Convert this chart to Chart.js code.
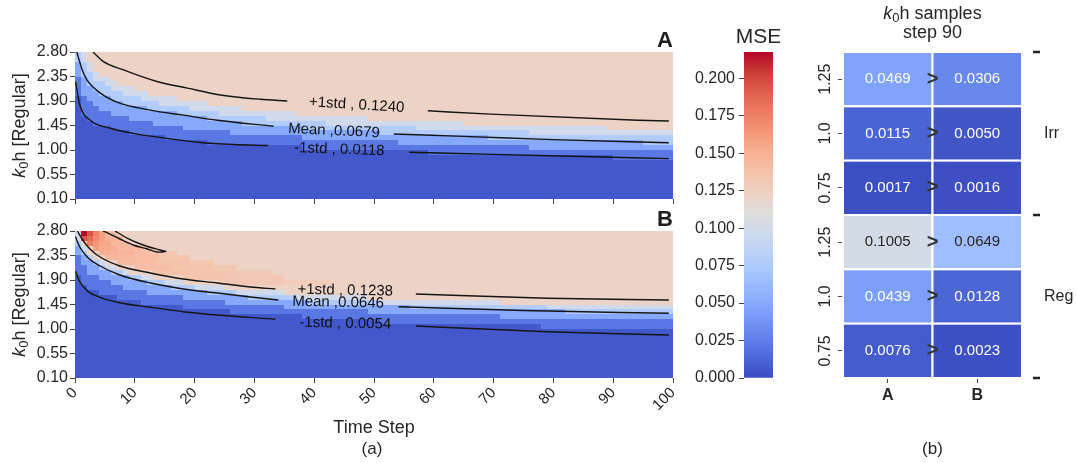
<!DOCTYPE html>
<html>
<head>
<meta charset="utf-8">
<script src="https://cdn.jsdelivr.net/npm/chart.js@4.4.1/dist/chart.umd.min.js"></script>
<style>
  html, body { margin: 0; padding: 0; background: #fff; }
  #wrap { position: relative; width: 1076px; height: 463px; overflow: hidden; }
  canvas { position: absolute; }
</style>
</head>
<body>
<div id="wrap">
  <canvas id="panelA" width="700" height="215" style="left:0px;top:0px"></canvas>
  <canvas id="panelB" width="700" height="263" style="left:0px;top:200px"></canvas>
  <canvas id="cbar" width="90" height="463" style="left:690px;top:0px"></canvas>
  <canvas id="samples" width="296" height="463" style="left:780px;top:0px"></canvas>
</div>
<script>
// MSE heatmaps (a) + step-90 sample table (b)

const FONT = "'Liberation Sans', Arial, sans-serif";
const INK = "#262626";

// ---- (a) axes ----
const X_TICKS = [0, 10, 20, 30, 40, 50, 60, 70, 80, 90, 100];
const Y_TICKS = [0.10, 0.55, 1.00, 1.45, 1.90, 2.35, 2.80];
const CB_TICKS = [0, 0.025, 0.05, 0.075, 0.1, 0.125, 0.15, 0.175, 0.2];
const VMAX = 0.2175;
const K_MIN = 0.10, K_STEP = 0.09, K_ROWS = 30, T_COLS = 100;

// colour bands: for each k0h row (bottom row first), the time step where the row
// first reaches each band (100 = never within 0..99)
const BAND_VALUES = [0.006, 0.022, 0.05, 0.078, 0.098, 0.122];

const A_X012 = [100, 100, 100, 100, 100, 100, 100, 100, 90, 59, 38, 22, 15, 9, 6, 3, 2, 1, 1, 1, 1, 0, 0, 0, 0, 0, 0, 0, 0, 0];
const A_X035 = [100, 100, 100, 100, 100, 100, 100, 100, 100, 100, 76, 54, 38, 26, 18, 13, 9, 6, 4, 3, 2, 1, 1, 1, 1, 0, 0, 0, 0, 0];
const A_X068 = [100, 100, 100, 100, 100, 100, 100, 100, 100, 100, 100, 95, 69, 51, 38, 28, 22, 17, 12, 8, 6, 4, 3, 2, 2, 1, 1, 1, 0, 0];
const A_X090 = [100, 100, 100, 100, 100, 100, 100, 100, 100, 100, 100, 100, 100, 76, 57, 42, 32, 24, 19, 14, 11, 8, 6, 5, 3, 3, 2, 2, 1, 1];
const A_X108 = [100, 100, 100, 100, 100, 100, 100, 100, 100, 100, 100, 100, 100, 100, 89, 65, 49, 37, 28, 22, 17, 12, 10, 7, 6, 4, 3, 3, 2, 2];

const B_X012 = [100, 100, 100, 100, 100, 100, 100, 100, 100, 100, 78, 51, 38, 26, 18, 11, 7, 4, 2, 1, 1, 0, 0, 0, 0, 0, 0, 0, 0, 0];
const B_X035 = [100, 100, 100, 100, 100, 100, 100, 100, 100, 100, 100, 100, 71, 49, 35, 25, 18, 12, 8, 6, 4, 2, 2, 1, 1, 0, 0, 0, 0, 0];
const B_X068 = [100, 100, 100, 100, 100, 100, 100, 100, 100, 100, 100, 100, 100, 82, 56, 39, 29, 22, 16, 12, 9, 6, 4, 3, 2, 1, 1, 0, 0, 0];
const B_X090 = [100, 100, 100, 100, 100, 100, 100, 100, 100, 100, 100, 100, 100, 100, 79, 51, 37, 27, 20, 15, 11, 8, 5, 4, 3, 2, 1, 1, 0, 0];
const B_X108 = [100, 100, 100, 100, 100, 100, 100, 100, 100, 100, 100, 100, 100, 100, 100, 71, 49, 35, 25, 18, 13, 9, 7, 5, 3, 2, 2, 1, 1, 1];

// B hot ridge above +1std: [row, fromStep, toStep, MSE]
const B_HOT = [
  [29, 1, 1, 0.217], [29, 2, 2, 0.195], [29, 3, 3, 0.175], [29, 4, 4, 0.16], [29, 5, 6, 0.145],
  [28, 1, 1, 0.195], [28, 2, 2, 0.185], [28, 3, 3, 0.17], [28, 4, 4, 0.16], [28, 5, 7, 0.148],
  [27, 2, 2, 0.175], [27, 3, 3, 0.165], [27, 4, 5, 0.155], [27, 6, 8, 0.145],
  [26, 3, 3, 0.16], [26, 4, 6, 0.152], [26, 7, 10, 0.145], [26, 11, 12, 0.136],
  [25, 4, 5, 0.15], [25, 6, 9, 0.148], [25, 10, 13, 0.14], [25, 14, 16, 0.134],
  [24, 5, 8, 0.145], [24, 9, 13, 0.142], [24, 14, 18, 0.136],
  [23, 7, 12, 0.142], [23, 13, 18, 0.138], [23, 19, 22, 0.133],
  [22, 10, 15, 0.14], [22, 16, 22, 0.136], [22, 23, 26, 0.132],
  [21, 13, 18, 0.138], [21, 19, 26, 0.135], [21, 27, 32, 0.131],
  [20, 18, 24, 0.136], [20, 25, 34, 0.132],
  [19, 24, 34, 0.132], [19, 35, 42, 0.129]
];

// contour lines [step, k0h], split where the inline label sits
const A_PLUS_1 = [[3.0, 2.80], [4.7, 2.629], [8.0, 2.475], [13.7, 2.258], [18.8, 2.136], [24.3, 2.011], [31.0, 1.931], [35.5, 1.90]];
const A_PLUS_2 = [[59.0, 1.72], [69.5, 1.659], [94.1, 1.547], [99.3, 1.534]];
const A_MEAN_1 = [[0.3, 2.80], [1.2, 2.475], [2.0, 2.29], [4.2, 2.049], [7.0, 1.881], [12.6, 1.733], [18.1, 1.64], [23.8, 1.547], [33.2, 1.436]];
const A_MEAN_2 = [[53.3, 1.293], [65, 1.25], [80, 1.19], [99.3, 1.133]];
const A_MINUS_1 = [[0.1, 2.25], [0.8, 1.83], [2.5, 1.55], [5.9, 1.40], [9.7, 1.306], [15.4, 1.213], [20.9, 1.139], [26.5, 1.102], [32.3, 1.083]];
const A_MINUS_2 = [[55.9, 0.959], [70, 0.92], [85, 0.88], [99.3, 0.842]];

const B_PLUS_1 = [[0.4, 2.80], [1.3, 2.635], [2.5, 2.469], [4.2, 2.322], [7.5, 2.157], [12.6, 2.029], [18.1, 1.918], [23.8, 1.845], [29.3, 1.771], [33.5, 1.735]];
const B_PLUS_2 = [[57, 1.643], [79, 1.564], [99.3, 1.533]];
const B_MEAN_1 = [[0.05, 2.70], [0.8, 2.506], [2.2, 2.304], [4.2, 2.157], [7.5, 1.992], [12.6, 1.845], [18.1, 1.735], [23.8, 1.661], [29.3, 1.588], [34.0, 1.533]];
const B_MEAN_2 = [[54.1, 1.41], [75, 1.34], [99.3, 1.288]];
const B_MINUS_1 = [[0.1, 2.06], [0.8, 1.869], [2.2, 1.686], [4.2, 1.582], [7.5, 1.483], [12.6, 1.399], [18.1, 1.318], [23.8, 1.257], [33.5, 1.178]];
const B_MINUS_2 = [[57, 1.055], [79, 0.95], [99.3, 0.89]];
const B_LOOP = [[6.7, 2.80], [8.7, 2.671], [11.4, 2.543], [14.2, 2.451], [15.2, 2.423], [13.7, 2.414], [12.1, 2.469], [9.7, 2.543], [7.5, 2.653], [5.5, 2.763], [4.7, 2.80]];

const A_LABELS = [
  { text: "+1std , 0.1240", t: 47.1, k: 1.827, rot: 3.5 },
  { text: "Mean ,0.0679", t: 43.3, k: 1.349, rot: 2.7 },
  { text: "-1std , 0.0118", t: 44.2, k: 1.009, rot: 2.0 }
];
const B_LABELS = [
  { text: "+1std , 0.1238", t: 45.2, k: 1.707, rot: 1.2 },
  { text: "Mean ,0.0646", t: 44.0, k: 1.487, rot: 1.2 },
  { text: "-1std , 0.0054", t: 45.2, k: 1.101, rot: 1.2 }
];

// ---- (b) step 90 samples ----
const SAMPLE_COLS = ["A", "B"];
const SAMPLE_ROWS = ["1.25", "1.0", "0.75", "1.25", "1.0", "0.75"];
const SAMPLE_GROUPS = ["Irr", "Reg"];
const SAMPLE_A = [0.0469, 0.0115, 0.0017, 0.1005, 0.0439, 0.0076];
const SAMPLE_B = [0.0306, 0.0050, 0.0016, 0.0649, 0.0128, 0.0023];

// coolwarm
const COOLWARM = [
  [59, 76, 192], [77, 104, 215], [98, 130, 234], [119, 154, 247], [141, 176, 254],
  [163, 194, 255], [184, 208, 249], [204, 217, 238], [221, 221, 221], [236, 211, 197],
  [245, 196, 173], [247, 177, 148], [244, 154, 123], [236, 127, 99], [222, 96, 77],
  [203, 62, 56], [180, 4, 38]
];

function coolwarm(v) {
  const f = Math.max(0, Math.min(1, v / VMAX)) * (COOLWARM.length - 1);
  const i = Math.min(Math.floor(f), COOLWARM.length - 2);
  const w = f - i;
  const a = COOLWARM[i], b = COOLWARM[i + 1];
  const c = a.map((x, j) => Math.round(x + (b[j] - x) * w));
  return `rgb(${c[0]},${c[1]},${c[2]})`;
}

Chart.defaults.font.family = FONT;
Chart.defaults.color = INK;

function bandField(crossings, hot) {
  const hotMap = {};
  (hot || []).forEach(([r, t0, t1, v]) => {
    for (let t = t0; t <= t1; t++) hotMap[r + "_" + t] = v;
  });
  return (t, r) => {
    const h = hotMap[r + "_" + t];
    if (h !== undefined) return h;
    let b = 0;
    crossings.forEach(c => { if (t >= c[r]) b++; });
    return BAND_VALUES[b];
  };
}

function drawKoh(ctx, cx, cy, size, rest, angle) {
  ctx.save();
  ctx.translate(cx, cy);
  ctx.rotate(angle);
  ctx.fillStyle = INK;
  ctx.textBaseline = "middle";
  ctx.textAlign = "left";
  const fK = `italic ${size}px ${FONT}`;
  const fS = `${Math.round(size * 0.7)}px ${FONT}`;
  const fR = `${size}px ${FONT}`;
  ctx.font = fK; const wK = ctx.measureText("k").width;
  ctx.font = fS; const wS = ctx.measureText("0").width;
  ctx.font = fR; const wR = ctx.measureText(rest).width;
  let x = -(wK + wS + wR) / 2;
  ctx.font = fK; ctx.fillText("k", x, 0); x += wK;
  ctx.font = fS; ctx.fillText("0", x, size * 0.25); x += wS;
  ctx.font = fR; ctx.fillText(rest, x, 0);
  ctx.restore();
}

function heatLayer(field) {
  return {
    id: "heat",
    beforeDatasetsDraw(chart) {
      const { ctx, scales: { x, y } } = chart;
      ctx.save();
      for (let t = 0; t < T_COLS; t++) {
        const x0 = Math.round(x.getPixelForValue(t));
        const x1 = Math.round(x.getPixelForValue(t + 1));
        for (let r = 0; r < K_ROWS; r++) {
          const y0 = Math.round(y.getPixelForValue(K_MIN + K_STEP * (r + 1)));
          const y1 = Math.round(y.getPixelForValue(K_MIN + K_STEP * r));
          ctx.fillStyle = coolwarm(field(t, r));
          ctx.fillRect(x0, y0, x1 - x0, y1 - y0);
        }
      }
      ctx.restore();
    }
  };
}

function panelText(letter, labels, withXTitle) {
  return {
    id: "panelText",
    afterDraw(chart) {
      const { ctx, chartArea: a, scales: { x, y } } = chart;
      ctx.save();
      ctx.fillStyle = "#1e1e1e";
      ctx.font = `bold 22px ${FONT}`;
      ctx.textAlign = "right";
      ctx.textBaseline = "alphabetic";
      ctx.fillText(letter, a.right, a.top - 5);

      drawKoh(ctx, 20, (a.top + a.bottom) / 2, 18, "h [Regular]", -Math.PI / 2);

      ctx.font = `15px ${FONT}`;
      ctx.fillStyle = "#111";
      ctx.textAlign = "center";
      ctx.textBaseline = "middle";
      labels.forEach(l => {
        ctx.save();
        ctx.translate(x.getPixelForValue(l.t), y.getPixelForValue(l.k));
        ctx.rotate(l.rot * Math.PI / 180);
        ctx.fillText(l.text, 0, 0);
        ctx.restore();
      });

      if (withXTitle) {
        ctx.fillStyle = INK;
        ctx.font = `18px ${FONT}`;
        ctx.fillText("Time Step", (a.left + a.right) / 2, a.bottom + 50);
        ctx.font = `17px ${FONT}`;
        ctx.fillText("(a)", (a.left + a.right) / 2 - 2, a.bottom + 71);
      }
      ctx.restore();
    }
  };
}

function heatPanel(id, opts) {
  return new Chart(document.getElementById(id), {
    type: "scatter",
    data: {
      datasets: opts.lines.map(pts => ({
        data: pts.map(p => ({ x: p[0], y: p[1] })),
        showLine: true,
        borderColor: "#151515",
        borderWidth: 1.4,
        pointRadius: 0,
        tension: 0.3,
        cubicInterpolationMode: pts === B_LOOP ? "default" : "monotone",
        fill: false
      }))
    },
    options: {
      responsive: false,
      animation: false,
      events: [],
      layout: { padding: opts.padding },
      plugins: { legend: { display: false }, tooltip: { enabled: false } },
      scales: {
        x: {
          type: "linear", min: 0, max: 100,
          afterBuildTicks: s => { s.ticks = X_TICKS.map(v => ({ value: v })); },
          afterFit: s => { s.height = opts.xHeight; },
          border: { display: false },
          grid: { drawOnChartArea: false, tickLength: 5, color: "#444" },
          ticks: {
            display: opts.xLabels,
            minRotation: 45, maxRotation: 45,
            padding: 1,
            font: { size: 15 },
            color: INK
          }
        },
        y: {
          type: "linear", min: 0.1, max: 2.8,
          afterBuildTicks: s => { s.ticks = Y_TICKS.map(v => ({ value: v })); },
          afterFit: s => { s.width = 75; },
          border: { display: false },
          grid: { drawOnChartArea: false, tickLength: 5, color: "#444" },
          ticks: {
            padding: 2,
            font: { size: 16 },
            color: INK,
            callback: v => Number(v).toFixed(2)
          }
        }
      }
    },
    plugins: [heatLayer(opts.field), panelText(opts.letter, opts.labels, opts.xLabels)]
  });
}

heatPanel("panelA", {
  letter: "A",
  lines: [A_PLUS_1, A_PLUS_2, A_MEAN_1, A_MEAN_2, A_MINUS_1, A_MINUS_2],
  labels: A_LABELS,
  field: bandField([A_X012, A_X035, A_X068, A_X090, A_X108]),
  padding: { top: 52, right: 27, bottom: 0, left: 0 },
  xHeight: 16,
  xLabels: false
});

heatPanel("panelB", {
  letter: "B",
  lines: [B_PLUS_1, B_PLUS_2, B_MEAN_1, B_MEAN_2, B_MINUS_1, B_MINUS_2, B_LOOP],
  labels: B_LABELS,
  field: bandField([B_X012, B_X035, B_X068, B_X090, B_X108], B_HOT),
  padding: { top: 31, right: 27, bottom: 0, left: 0 },
  xHeight: 85,
  xLabels: true
});

// colour bar
new Chart(document.getElementById("cbar"), {
  type: "bar",
  data: {
    labels: ["MSE"],
    datasets: [{
      data: [[0, VMAX]],
      barPercentage: 1,
      categoryPercentage: 1,
      borderWidth: 0,
      backgroundColor: c => {
        const a = c.chart.chartArea;
        if (!a) return "#ccc";
        const g = c.chart.ctx.createLinearGradient(0, a.bottom, 0, a.top);
        COOLWARM.forEach((s, i) => g.addColorStop(i / (COOLWARM.length - 1), `rgb(${s[0]},${s[1]},${s[2]})`));
        return g;
      }
    }]
  },
  options: {
    responsive: false,
    animation: false,
    events: [],
    layout: { padding: { top: 52, right: 7, bottom: 85, left: 0 } },
    plugins: { legend: { display: false }, tooltip: { enabled: false } },
    scales: {
      x: { display: false },
      y: {
        min: 0, max: VMAX,
        afterBuildTicks: s => { s.ticks = CB_TICKS.map(v => ({ value: v })); },
        afterFit: s => { s.width = 54; },
        border: { display: false },
        grid: { drawOnChartArea: false, tickLength: 5, color: "#444" },
        ticks: { padding: 4, font: { size: 16 }, color: INK, callback: v => Number(v).toFixed(3) }
      }
    }
  },
  plugins: [{
    id: "cbTitle",
    afterDraw(chart) {
      const { ctx, chartArea: a } = chart;
      ctx.save();
      ctx.fillStyle = INK;
      ctx.font = `21px ${FONT}`;
      ctx.textAlign = "center";
      ctx.textBaseline = "middle";
      ctx.fillText("MSE", (a.left + a.right) / 2, 37);
      ctx.restore();
    }
  }]
});

// (b) sample table
new Chart(document.getElementById("samples"), {
  type: "scatter",
  data: { datasets: [] },
  options: {
    responsive: false,
    animation: false,
    events: [],
    layout: { padding: { top: 52, right: 54, bottom: 0, left: 0 } },
    plugins: { legend: { display: false }, tooltip: { enabled: false } },
    scales: {
      x: {
        type: "linear", min: 0, max: 2,
        afterBuildTicks: s => { s.ticks = [0.5, 1.5].map(v => ({ value: v })); },
        afterFit: s => { s.height = 85; },
        border: { display: false },
        grid: { drawOnChartArea: false, tickLength: 5, color: "#444" },
        ticks: {
          padding: 3,
          font: { size: 16, weight: "bold" },
          color: INK,
          callback: v => SAMPLE_COLS[Math.round(v - 0.5)]
        }
      },
      y: {
        type: "linear", min: 0, max: 6, reverse: true,
        afterBuildTicks: s => { s.ticks = SAMPLE_ROWS.map((_, i) => ({ value: i + 0.5 })); },
        afterFit: s => { s.width = 63; },
        border: { display: false },
        grid: { drawOnChartArea: false, tickLength: 5, color: "#444" },
        ticks: { callback: () => "" }
      }
    }
  },
  plugins: [{
    id: "cells",
    beforeDatasetsDraw(chart) {
      const { ctx, scales: { x, y } } = chart;
      const cols = [SAMPLE_A, SAMPLE_B];
      ctx.save();
      cols.forEach((vals, j) => {
        vals.forEach((v, i) => {
          const x0 = x.getPixelForValue(j), x1 = x.getPixelForValue(j + 1);
          const y0 = y.getPixelForValue(i), y1 = y.getPixelForValue(i + 1);
          ctx.fillStyle = coolwarm(v);
          ctx.fillRect(x0, y0, x1 - x0, y1 - y0);
          ctx.strokeStyle = "#fff";
          ctx.lineWidth = 2;
          ctx.strokeRect(x0, y0, x1 - x0, y1 - y0);
          ctx.fillStyle = v > 0.06 ? INK : "#fff";
          ctx.font = `15px ${FONT}`;
          ctx.textAlign = "center";
          ctx.textBaseline = "middle";
          ctx.fillText(v.toFixed(4), (x0 + x1) / 2, (y0 + y1) / 2);
        });
      });
      // comparison marks between the columns
      ctx.fillStyle = "#333";
      ctx.font = `bold 20px ${FONT}`;
      SAMPLE_A.forEach((_, i) => {
        ctx.fillText(">", x.getPixelForValue(1), y.getPixelForValue(i + 0.5));
      });
      ctx.restore();
    },
    afterDraw(chart) {
      const { ctx, chartArea: a, scales: { y } } = chart;
      const cx = (a.left + a.right) / 2;
      ctx.save();
      ctx.fillStyle = INK;
      // rotated row labels
      ctx.font = `16px ${FONT}`;
      ctx.textAlign = "center";
      ctx.textBaseline = "middle";
      SAMPLE_ROWS.forEach((lab, i) => {
        ctx.save();
        ctx.translate(a.left - 17, y.getPixelForValue(i + 0.5));
        ctx.rotate(-Math.PI / 2);
        ctx.fillText(lab, 0, 0);
        ctx.restore();
      });
      // group brackets
      ctx.strokeStyle = "#222";
      ctx.lineWidth = 2.5;
      [0, 3, 6].forEach(v => {
        const py = Math.round(y.getPixelForValue(v));
        ctx.beginPath();
        ctx.moveTo(a.right + 11, py);
        ctx.lineTo(a.right + 18, py);
        ctx.stroke();
      });
      ctx.textAlign = "left";
      SAMPLE_GROUPS.forEach((g, i) => {
        ctx.fillText(g, a.right + 22, y.getPixelForValue(i * 3 + 1.5));
      });
      // title
      drawKoh(ctx, cx, 14, 18, "h samples", 0);
      ctx.font = `18px ${FONT}`;
      ctx.textAlign = "center";
      ctx.fillText("step 90", cx, 33);
      ctx.font = `17px ${FONT}`;
      ctx.fillText("(b)", cx, 449);
      ctx.restore();
    }
  }]
});
</script>
</body>
</html>
